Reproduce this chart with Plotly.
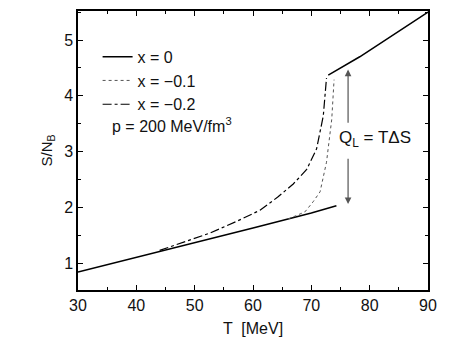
import plotly.graph_objects as go

# x = 0 : lower branch, gap, upper branch
T_x0 = [30, 40, 50, 60, 70, 74.3, None, 72.9, 78.3, 90]
S_x0 = [0.84, 1.10, 1.37, 1.63, 1.90, 2.03, None, 4.37, 4.70, 5.50]

# x = -0.1
T_x01 = [66.0, 68.9, 70.3, 71.5, 72.6, 73.5, 73.9]
S_x01 = [1.79, 1.92, 2.10, 2.28, 2.81, 3.58, 4.29]

# x = -0.2
T_x02 = [44.0, 45.8, 49.0, 52.6, 57.2, 61.2, 64.3, 66.9, 69.2, 70.9, 72.05, 72.6]
S_x02 = [1.23, 1.29, 1.41, 1.54, 1.75, 1.95, 2.19, 2.42, 2.68, 3.05, 3.64, 4.32]

# latent heat arrow
T_arrow = 76.3
S_arrow = [4.47, 3.49, 2.90, 2.06]

font = "Liberation Sans, Arial, sans-serif"

fig = go.Figure()
fig.add_trace(go.Scatter(name="x = 0", x=T_x0, y=S_x0, mode="lines",
                         line=dict(color="black", width=1.5)))
fig.add_trace(go.Scatter(name="x = \u22120.1", x=T_x01, y=S_x01, mode="lines",
                         line=dict(color="#555", width=1, dash="dot")))
fig.add_trace(go.Scatter(name="x = \u22120.2", x=T_x02, y=S_x02, mode="lines",
                         line=dict(color="black", width=1.2, dash="dashdot")))

# double arrow with gap for the label
for tip, tail in [(S_arrow[0], S_arrow[1]), (S_arrow[3], S_arrow[2])]:
    fig.add_annotation(x=T_arrow, y=tip, ax=T_arrow, ay=tail, xref="x", yref="y",
                       axref="x", ayref="y", text="", showarrow=True,
                       arrowhead=2, arrowsize=1.1, arrowwidth=1.2, arrowcolor="#555")

fig.add_annotation(x=80.9, y=3.22, xref="x", yref="y", showarrow=False,
                   text="Q<sub>L</sub> = T\u0394S", font=dict(size=17, color="#111"))
fig.add_annotation(x=0.091, y=0.59, xref="paper", yref="paper", xanchor="left",
                   showarrow=False, text="p = 200 MeV/fm<sup>3</sup>",
                   font=dict(size=16, color="#111"))

axis_common = dict(showline=True, linecolor="black", linewidth=1.5, mirror="ticks",
                   ticks="inside", ticklen=5, tickcolor="black", showgrid=False,
                   zeroline=False, tickfont=dict(size=16, color="#111"))

fig.update_xaxes(range=[30, 90], dtick=10, tick0=30,
                 minor=dict(dtick=5, ticks="inside", ticklen=3, tickcolor="black"),
                 title=dict(text="T  [MeV]", font=dict(size=16, color="#111"), standoff=10),
                 **axis_common)
fig.update_yaxes(range=[0.52, 5.52], dtick=1, tick0=1,
                 minor=dict(dtick=0.5, ticks="inside", ticklen=3, tickcolor="black"),
                 title=dict(text="S/N<sub>B</sub>", font=dict(size=15, color="#111"), standoff=8),
                 **axis_common)

# page body has an 8px margin, so the figure is a little smaller than the window
fig.update_layout(width=456, height=337, margin=dict(l=70, r=36, t=1, b=55),
                  plot_bgcolor="white", paper_bgcolor="white",
                  font=dict(family=font, size=16, color="#111"),
                  legend=dict(x=0.056, y=0.897, xanchor="left", yanchor="top",
                              bgcolor="rgba(0,0,0,0)", font=dict(size=16),
                              itemwidth=30, tracegroupgap=0))

fig.write_html("out.html")
